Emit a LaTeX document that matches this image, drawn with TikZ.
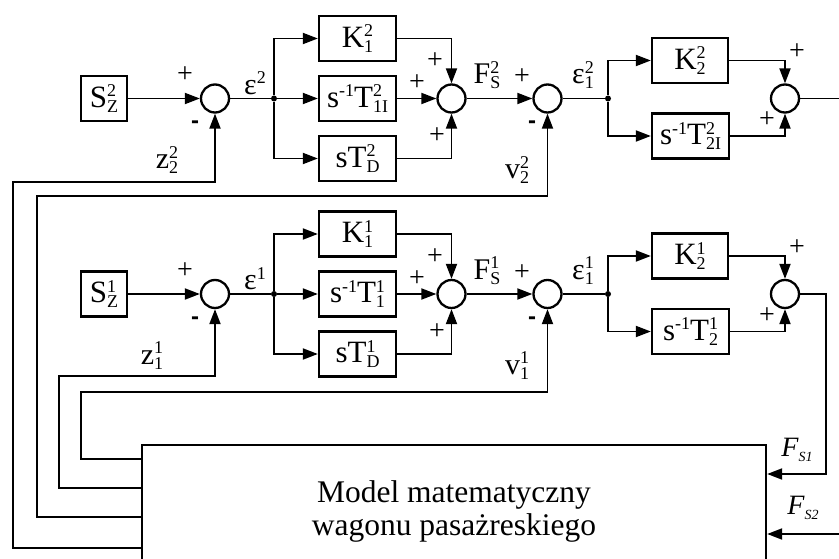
\documentclass[tikz,border=0pt]{standalone}
\usepackage{fontspec}
\setmainfont{Liberation Serif}
\newfontfamily\sansf{Liberation Sans}
\usetikzlibrary{arrows.meta}
\newcommand\sps[2]{{\fontsize{18}{18}\selectfont\setbox0\hbox{#1}\setbox2\hbox{#2}%
\ifdim\wd0>\wd2 \wd2=\wd0\fi
\rlap{\raise10.5pt\box0}\lower5pt\box2}}
\newcommand\supr[1]{{\fontsize{18}{18}\selectfont\raise10.5pt\hbox{#1}}}
\begin{document}
\begin{tikzpicture}[x=1pt,y=-1pt,
  blk/.style={draw, line width=2.3pt, inner sep=0pt, minimum height=45pt, font=\fontsize{31}{31}\selectfont},
  sumc/.style={draw, circle, line width=2.3pt, minimum size=28pt, inner sep=0pt},
  dotc/.style={circle, fill, inner sep=0pt, minimum size=6pt},
  ln/.style={line width=1.9pt},
  arr/.style={ln, -{Triangle[length=15pt,width=11pt]}},
  lbl/.style={font=\fontsize{30}{30}\selectfont, inner sep=0pt},
  pl/.style={font=\fontsize{28}{28}\selectfont, inner sep=0pt},
  mn/.style={font=\sansf\bfseries\fontsize{24}{24}\selectfont, inner sep=0pt},
  fl/.style={font=\itshape\fontsize{28}{28}\selectfont, inner sep=0pt},
]
\useasboundingbox (0,0) rectangle (839,559);
\clip (0,0) rectangle (839,559);

\node[draw, line width=2.3pt, minimum width=624pt, minimum height=132pt, inner sep=0pt,
  align=center, font=\fontsize{31.5}{33}\selectfont] (model) at (454,511)
  {Model matematyczny\\wagonu pasażreskiego};

\foreach \r/\o/\k/\ta/\tb/\zx in {A/0/2/1I/2I/167, B/195.5/1/1/2/152}{
  \node[blk, minimum width=46pt] (sz\r) at (104,98.5+\o) {S\sps{\k}{Z}};
  \node[sumc] (s1\r) at (215,98.5+\o) {};
  \node[dotc] (j1\r) at (274,98.5+\o) {};
  \node[blk, minimum width=77pt] (k1\r) at (357.5,38.5+\o) {K\sps{\k}{1}};
  \node[blk, minimum width=77pt] (t1\r) at (357.5,98.5+\o) {s\supr{-1}T\sps{\k}{\ta}};
  \node[blk, minimum width=77pt] (d\r) at (357.5,158.5+\o) {sT\sps{\k}{D}};
  \node[sumc] (s2\r) at (451.5,98.5+\o) {};
  \node[sumc] (s3\r) at (547.5,98.5+\o) {};
  \node[dotc] (j2\r) at (608,98.5+\o) {};
  \node[blk, minimum width=76pt] (k2\r) at (690,60.5+\o) {K\sps{\k}{2}};
  \node[blk, minimum width=77pt] (t2\r) at (690.5,136+\o) {s\supr{-1}T\sps{\k}{\tb}};
  \node[sumc] (s4\r) at (785,98.5+\o) {};

  \draw[arr] (sz\r) -- (s1\r);
  \draw[ln] (s1\r) -- (j1\r);
  \draw[arr] (j1\r) |- (k1\r);
  \draw[arr] (j1\r) -- (t1\r);
  \draw[arr] (j1\r) |- (d\r);
  \draw[arr] (k1\r) -| (s2\r);
  \draw[arr] (t1\r) -- (s2\r);
  \draw[arr] (d\r) -| (s2\r);
  \draw[arr] (s2\r) -- (s3\r);
  \draw[ln] (s3\r) -- (j2\r);
  \draw[arr] (j2\r) |- (k2\r);
  \draw[arr] (j2\r) |- (t2\r);
  \draw[arr] (k2\r) -| (s4\r);
  \draw[arr] (t2\r) -| (s4\r);

  \node[pl] at (185,75+\o) {+};
  \node[mn] at (195,125+\o) {-};
  \node[lbl] at (\zx,160+\o) {z\sps{\k}{\k}};
  \node[lbl] at (255,83+\o) {ε\supr{\k}};
  \node[pl] at (435,61+\o) {+};
  \node[pl] at (417,83+\o) {+};
  \node[pl] at (437,136+\o) {+};
  \node[lbl] at (487,75+\o) {F\sps{\k}{S}};
  \node[pl] at (522,77+\o) {+};
  \node[mn] at (532,125+\o) {-};
  \node[lbl] at (517,170+\o) {v\sps{\k}{\k}};
  \node[lbl] at (583,75+\o) {ε\sps{\k}{1}};
  \node[pl] at (797,52+\o) {+};
  \node[pl] at (767,120+\o) {+};
}

% outputs
\coordinate (outA) at (839,98.5);
\draw[ln] (s4A) -- (outA);
\coordinate (fs1) at (826,474);
\draw[arr] (s4B) -| (fs1) -- (fs1 -| model.east);
\coordinate (fs2) at (839,534);
\draw[arr] (fs2) -- (fs2 -| model.east);
\node[fl] at (797,450) {F\lower5pt\hbox{\fontsize{14}{14}\selectfont S1}};
\node[fl] at (803,508) {F\lower5pt\hbox{\fontsize{14}{14}\selectfont S2}};

% feedback lines
\coordinate (zA1) at (13,548); \coordinate (zA2) at (13,182);
\coordinate (vA1) at (37,517); \coordinate (vA2) at (37,196);
\coordinate (zB1) at (59,488); \coordinate (zB2) at (59,376);
\coordinate (vB1) at (81,459); \coordinate (vB2) at (81,392);
\draw[arr] (zA1 -| model.west) -- (zA1) -- (zA2) -| (s1A);
\draw[arr] (vA1 -| model.west) -- (vA1) -- (vA2) -| (s3A);
\draw[arr] (zB1 -| model.west) -- (zB1) -- (zB2) -| (s1B);
\draw[arr] (vB1 -| model.west) -- (vB1) -- (vB2) -| (s3B);
\end{tikzpicture}
\end{document}
